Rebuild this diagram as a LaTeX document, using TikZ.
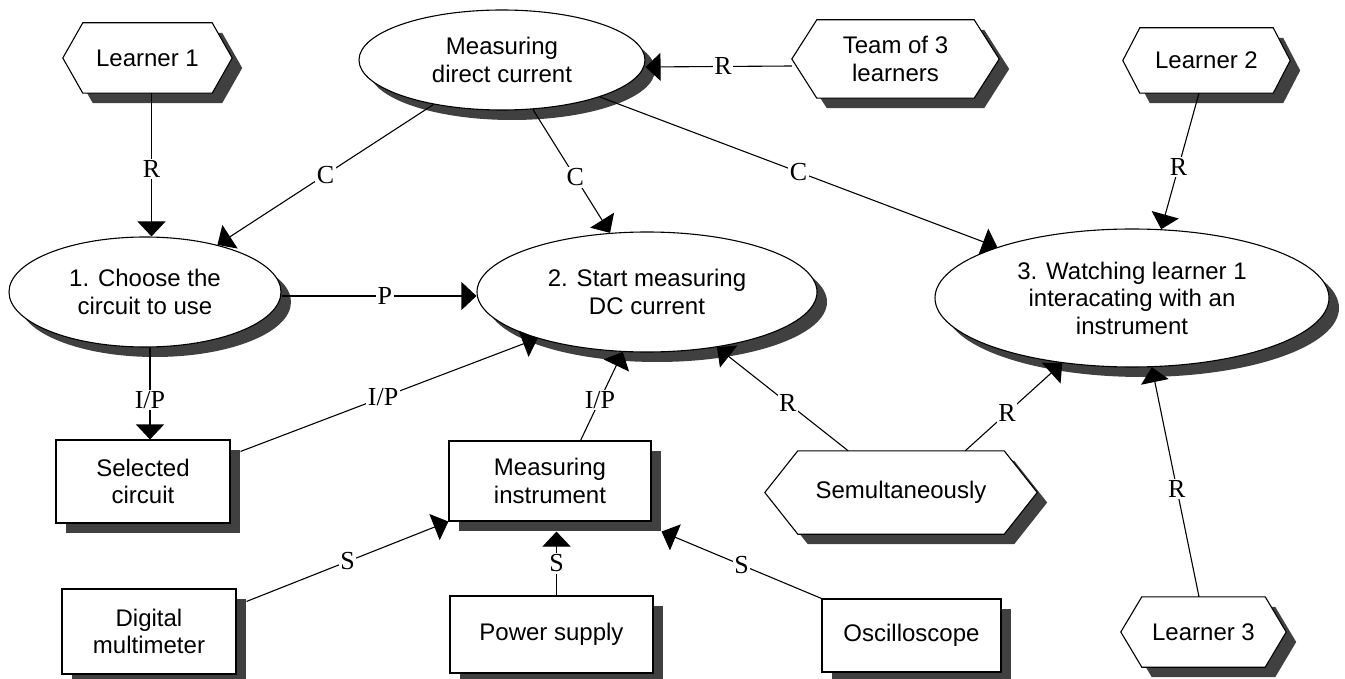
\documentclass[tikz,border=0pt]{standalone}
\usepackage{fontspec}
\setmainfont{Liberation Sans}
\newfontfamily\lblfont{Liberation Serif}
\usetikzlibrary{arrows.meta,shapes.geometric,shadows,backgrounds}
\definecolor{shd}{HTML}{404040}
\tikzset{
  base/.style={draw=black, line width=1.1pt, fill=white, inner sep=0pt, align=center,
    font=\fontsize{24}{27.5}\selectfont},
  oval/.style={base, ellipse, drop shadow={shadow xshift=10pt, shadow yshift=-10pt, fill=shd, opacity=1}},
  box/.style={base, rectangle, drop shadow={shadow xshift=10pt, shadow yshift=-10pt, fill=shd, opacity=1}},
  hexnode/.style={rectangle, inner sep=0pt, align=center, font=\fontsize{24}{27.5}\selectfont},
  conn/.style={line width=1.1pt, -{Triangle[length=15pt,width=28pt]}},
  lbl/.style={fill=white, inner sep=1.5pt, font=\lblfont\fontsize{26}{30}\selectfont},
}
\newcommand\hexshape[2]{%
  \fill[shd] ([xshift=10pt,yshift=-10pt]#1.west)
    -- ([xshift=#2pt+10pt,yshift=-10pt]#1.north west)
    -- ([xshift=-#2pt+10pt,yshift=-10pt]#1.north east)
    -- ([xshift=10pt,yshift=-10pt]#1.east)
    -- ([xshift=-#2pt+10pt,yshift=-10pt]#1.south east)
    -- ([xshift=#2pt+10pt,yshift=-10pt]#1.south west) -- cycle;
  \draw[line width=1.1pt, fill=white] (#1.west)
    -- ([xshift=#2pt]#1.north west) -- ([xshift=-#2pt]#1.north east)
    -- (#1.east) -- ([xshift=-#2pt]#1.south east)
    -- ([xshift=#2pt]#1.south west) -- cycle;
}
\begin{document}
\begin{tikzpicture}[x=1pt,y=-1pt]
\useasboundingbox (0,0) rectangle (1345,679);
% hexagon nodes
\node[hexnode, minimum width=169pt, minimum height=70pt] (l1) at (147.5,58) {Learner 1};
\node[hexnode, minimum width=207pt, minimum height=78pt] (team) at (895.5,59) {Team of 3\\learners};
\node[hexnode, minimum width=167pt, minimum height=65pt] (l2) at (1206.5,60.5) {Learner 2};
\node[hexnode, minimum width=272pt, minimum height=83pt] (sem) at (901,492.5) {Semultaneously};
\node[hexnode, minimum width=165pt, minimum height=70pt] (l3) at (1203.5,632) {Learner 3};
\begin{pgfonlayer}{background}
  \hexshape{l1}{20}
  \hexshape{team}{25}
  \hexshape{l2}{17}
  \hexshape{sem}{33}
  \hexshape{l3}{21}
\end{pgfonlayer}
% ellipses
\node[oval, minimum width=286pt, minimum height=100pt] (mdc) at (502,60) {Measuring\\direct current};
\node[oval, minimum width=272pt, minimum height=110pt] (e1) at (145,292) {1. Choose the\\circuit to use};
\node[oval, minimum width=340pt, minimum height=120pt] (e2) at (647,292) {2. Start measuring\\DC current};
\node[oval, minimum width=394pt, minimum height=138pt] (e3) at (1132,298) {3. Watching learner 1\\interacating with an\\instrument};
% boxes
\node[box, minimum width=174pt, minimum height=83pt] (sel) at (143,481.5) {Selected\\circuit};
\node[box, minimum width=202pt, minimum height=80pt] (mi) at (550,481) {Measuring\\instrument};
\node[box, minimum width=174pt, minimum height=85pt] (dmm) at (149,631.5) {Digital\\multimeter};
\node[box, minimum width=203pt, minimum height=77pt] (ps) at (551.5,634.5) {Power supply};
\node[box, minimum width=179pt, minimum height=73pt] (osc) at (911.5,635.5) {Oscilloscope};
% connectors
\draw[conn] ([xshift=4pt]l1.south) -- ([xshift=4pt]l1.south |- e1.north) node[lbl,pos=0.53] {R};
\draw[conn] (mdc) -- (e1) node[lbl,pos=0.5] {C};
\draw[conn] (mdc) -- (e2) node[lbl,pos=0.55] {C};
\draw[conn] (mdc) -- (e3) node[lbl,pos=0.5] {C};
\draw[conn] ([yshift=-7pt]team.west) -- ([yshift=-7pt]mdc.east) node[lbl,pos=0.47] {R};
\draw[conn] ([xshift=-7.5pt]l2.south) -- (e3.67) node[lbl,pos=0.54] {R};
\draw[conn] ([yshift=-4pt]e1.east) -- ([yshift=-4pt]e1.east -| e2.west) node[lbl,pos=0.53] {P};
\draw[conn] ([xshift=5pt]e1.south) -- ([xshift=5pt]e1.south |- sel.north) node[lbl,pos=0.57] {I/P};
\draw[conn] ([shift={(10pt,-12pt)}]sel.north east) -- (e2.203) node[lbl,pos=0.48] {I/P};
\draw[conn] (mi.53) -- (e2.248) node[lbl,pos=0.46] {I/P};
\draw[conn] (sem) -- (e2) node[lbl,pos=0.46] {R};
\draw[conn] (sem.33) -- (e3.223) node[lbl,pos=0.43] {R};
\draw[conn] ([xshift=-4.5pt]l3.north) -- (e3.286) node[lbl,pos=0.47] {R};
\draw[conn] ([shift={(10pt,-13pt)}]dmm.north east) -- (mi.south west) node[lbl,pos=0.5] {S};
\draw[conn] ([xshift=5pt]ps.north) -- ([shift={(5pt,-10pt)}]ps.north |- mi.south) node[lbl,pos=0.5] {S};
\draw[conn] (osc.north west) -- ([shift={(10pt,-10pt)}]mi.south east) node[lbl,pos=0.5] {S};
\end{tikzpicture}
\end{document}
